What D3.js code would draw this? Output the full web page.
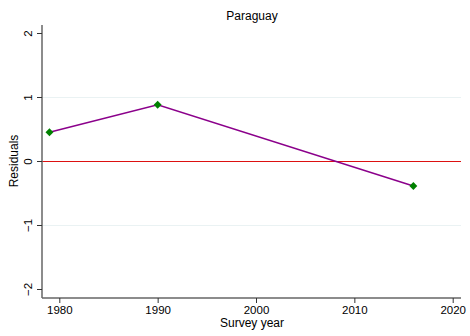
<!DOCTYPE html>
<html>
<head>
<meta charset="utf-8">
<script src="https://cdn.jsdelivr.net/npm/d3@7"></script>
<style>
  html, body { margin: 0; padding: 0; background: #fff; }
  svg { display: block; font-family: "Liberation Sans", Arial, sans-serif; }
</style>
</head>
<body>
<svg id="chart" width="470" height="336"></svg>
<script>
// Residuals by survey year for Paraguay
const years = [1979, 1990, 2016];
const residuals = [0.45, 0.88, -0.39];
const xTicks = [1980, 1990, 2000, 2010, 2020];
const yTicks = [-2, -1, 0, 1, 2];
const gridValues = [-1, 1];
const title = "Paraguay";

const svg = d3.select("#chart");

const x = d3.scaleLinear().domain([1980, 2020]).range([59.3, 452.7]);
const y = d3.scaleLinear().domain([-2, 2]).range([289, 33]);

const plotLeft = 42, plotRight = 461, plotTop = 25, plotBottom = 298;

// light horizontal grid lines
svg.append("g").selectAll("line").data(gridValues).join("line")
  .attr("x1", plotLeft).attr("x2", plotRight)
  .attr("y1", d => y(d) + 0.5).attr("y2", d => y(d) + 0.5)
  .attr("stroke", "#eaf2f3").attr("stroke-width", 1);

// zero reference line
svg.append("line")
  .attr("x1", plotLeft).attr("x2", plotRight)
  .attr("y1", y(0) + 0.5).attr("y2", y(0) + 0.5)
  .attr("stroke", "#dd1111").attr("stroke-width", 1);

// y axis
const yAxis = svg.append("g").attr("transform", `translate(${plotLeft},0)`)
  .call(d3.axisLeft(y).tickValues(yTicks).tickSize(5).tickPadding(4)
    .tickFormat(d => d < 0 ? "\u2212" + Math.abs(d) : String(d)));
yAxis.select(".domain").attr("d", `M0,${plotTop}V${plotBottom}`).attr("stroke", "#666").attr("stroke-width", 1.5);
yAxis.selectAll(".tick line").attr("stroke", "#333");
yAxis.selectAll(".tick text")
  .attr("font-size", 11.5).attr("fill", "#000")
  .attr("transform", "rotate(-90)")
  .attr("x", 0).attr("y", -10)
  .attr("dy", "0")
  .attr("text-anchor", "middle");

// x axis
const xAxis = svg.append("g").attr("transform", `translate(0,${plotBottom})`)
  .call(d3.axisBottom(x).tickValues(xTicks).tickSize(5).tickPadding(3).tickFormat(d3.format("d")));
xAxis.select(".domain").attr("d", `M${plotLeft},0H${plotRight}`).attr("stroke", "#666").attr("stroke-width", 1.5);
xAxis.selectAll(".tick line").attr("stroke", "#333");
xAxis.selectAll(".tick text").attr("font-size", 11.5).attr("fill", "#000");

// series line
const line = d3.line().x((d, i) => x(years[i])).y(d => y(d));
svg.append("path").datum(residuals)
  .attr("d", line)
  .attr("fill", "none")
  .attr("stroke", "#8b008b")
  .attr("stroke-width", 1.5);

// diamond markers
svg.append("g").selectAll("path").data(residuals).join("path")
  .attr("transform", (d, i) => `translate(${x(years[i])},${y(d)})`)
  .attr("d", d3.symbol(d3.symbolDiamond2, 40))
  .attr("fill", "#008000");

// title and axis labels
svg.append("text").attr("x", 252).attr("y", 20).attr("text-anchor", "middle")
  .attr("font-size", 12).text(title);
svg.append("text").attr("x", 252).attr("y", 327).attr("text-anchor", "middle")
  .attr("font-size", 12).text("Survey year");
svg.append("text").attr("transform", "translate(18,161) rotate(-90)")
  .attr("text-anchor", "middle").attr("font-size", 12).text("Residuals");
</script>
</body>
</html>
